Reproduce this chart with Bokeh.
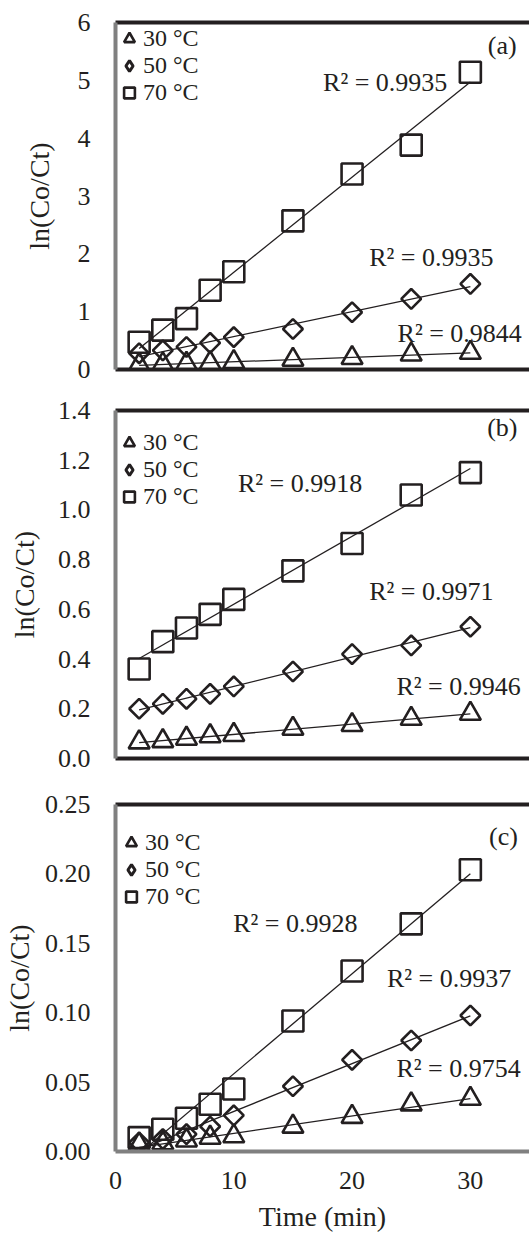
import numpy as np
from bokeh.plotting import figure
from bokeh.layouts import column
from bokeh.models import (Legend, LegendItem, Label, LinearAxis, FixedTicker,
                          Range1d, PrintfTickFormatter)
from bokeh.embed import file_html
from bokeh.resources import INLINE

# ---------------- data ----------------
time_min = [2, 4, 6, 8, 10, 15, 20, 25, 30]
series_labels = ["30 °C", "50 °C", "70 °C"]

a_30 = [0.08, 0.09, 0.10, 0.11, 0.13, 0.17, 0.20, 0.26, 0.29]
a_50 = [0.28, 0.33, 0.39, 0.46, 0.56, 0.70, 0.99, 1.22, 1.48]
a_70 = [0.47, 0.68, 0.88, 1.37, 1.69, 2.57, 3.38, 3.88, 5.14]
a_r2 = ["R² = 0.9844", "R² = 0.9935", "R² = 0.9935"]

b_30 = [0.065, 0.07, 0.08, 0.09, 0.095, 0.12, 0.135, 0.16, 0.18]
b_50 = [0.20, 0.22, 0.24, 0.26, 0.29, 0.35, 0.42, 0.455, 0.53]
b_70 = [0.36, 0.47, 0.525, 0.58, 0.64, 0.755, 0.865, 1.06, 1.15]
b_r2 = ["R² = 0.9946", "R² = 0.9971", "R² = 0.9918"]

c_30 = [0.005, 0.006, 0.008, 0.010, 0.011, 0.018, 0.025, 0.034, 0.038]
c_50 = [0.0065, 0.009, 0.0125, 0.018, 0.026, 0.047, 0.066, 0.080, 0.098]
c_70 = [0.010, 0.016, 0.024, 0.034, 0.045, 0.094, 0.130, 0.164, 0.203]
c_r2 = ["R² = 0.9754", "R² = 0.9937", "R² = 0.9928"]

x_ticks = [0, 10, 20, 30]
a_yticks = [0, 1, 2, 3, 4, 5, 6]
b_yticks = [0.0, 0.2, 0.4, 0.6, 0.8, 1.0, 1.2, 1.4]
c_yticks = [0.00, 0.05, 0.10, 0.15, 0.20, 0.25]

FONT = "Liberation Serif"
INK = "#231f20"


def make_panel(series, r2_texts, r2_pos, tag, tag_pos, yticks, yfmt,
               height, top, bottom, legend_vy, legend_vx, label_standoff,
               show_x, bottom_color, bottom_width):
    p = figure(width=529, height=height, output_backend="svg", toolbar_location=None,
               x_range=Range1d(0, 35), y_range=Range1d(yticks[0], yticks[-1]),
               min_border_left=112, min_border_right=0,
               min_border_top=top, min_border_bottom=bottom,
               y_axis_label="ln(Co/Ct)", x_axis_label=("Time (min)" if show_x else None))
    p.outline_line_color = None
    p.grid.visible = False
    p.background_fill_color = "white"

    # y axis
    yax = p.yaxis[0]
    yax.ticker = FixedTicker(ticks=yticks)
    yax.formatter = PrintfTickFormatter(format=yfmt)
    yax.major_tick_out = 0
    yax.major_tick_in = 0
    yax.minor_tick_out = 0
    yax.minor_tick_in = 0
    yax.major_label_standoff = 25
    yax.major_label_text_font = FONT
    yax.major_label_text_font_size = "26px"
    yax.major_label_text_color = INK
    yax.axis_label_text_font = FONT
    yax.axis_label_text_font_size = "28px"
    yax.axis_label_text_font_style = "normal"
    yax.axis_label_text_color = INK
    yax.axis_label_standoff = label_standoff
    yax.axis_line_color = "#808080"
    yax.axis_line_width = 4

    # x axis
    xax = p.xaxis[0]
    xax.major_tick_out = 0
    xax.major_tick_in = 0
    xax.minor_tick_out = 0
    xax.minor_tick_in = 0
    xax.axis_line_color = bottom_color
    xax.axis_line_width = bottom_width
    if show_x:
        xax.ticker = FixedTicker(ticks=x_ticks)
        xax.major_label_standoff = 20
        xax.major_label_text_font = FONT
        xax.major_label_text_font_size = "26px"
        xax.major_label_text_color = INK
        xax.axis_label_text_font = FONT
        xax.axis_label_text_font_size = "28px"
        xax.axis_label_text_font_style = "normal"
        xax.axis_label_text_color = INK
        xax.axis_label_standoff = 9
    else:
        xax.ticker = FixedTicker(ticks=[])
        xax.major_label_standoff = 0

    # top border
    top_ax = LinearAxis(ticker=FixedTicker(ticks=[]), major_tick_out=0, major_tick_in=0,
                        minor_tick_out=0, minor_tick_in=0, major_label_standoff=0,
                        axis_line_color=INK, axis_line_width=4)
    p.add_layout(top_ax, "above")

    ys30, ys50, ys70 = series
    xs = np.array(time_min, dtype=float)

    # trend lines (least squares fits of each series)
    for ys in (ys30, ys50, ys70):
        k, b0 = np.polyfit(xs, np.array(ys, dtype=float), 1)
        xf = np.array([xs[0], xs[-1]])
        p.line(xf, k * xf + b0, line_color=INK, line_width=1.3)

    r30 = p.scatter(xs, ys30, marker="triangle", size=21, fill_color=None,
                    line_color=INK, line_width=2.6)
    r50 = p.scatter(xs, ys50, marker="square", angle=np.pi / 4, size=14,
                    fill_color=None, line_color=INK, line_width=2.6)
    r70 = p.scatter(xs, ys70, marker="square", size=21, fill_color=None,
                    line_color=INK, line_width=2.6)
    # legend key for the diamond series (hidden in the plot, shown in the legend)
    r50_key = p.scatter(xs, ys50, marker="diamond", size=14, fill_color=None,
                        line_color=INK, line_width=3, visible=False)

    legend = Legend(items=[LegendItem(label=series_labels[0], renderers=[r30]),
                           LegendItem(label=series_labels[1], renderers=[r50_key]),
                           LegendItem(label=series_labels[2], renderers=[r70])],
                    location=(legend_vx, legend_vy), orientation="vertical",
                    background_fill_alpha=0, border_line_color=None,
                    inactive_fill_alpha=0,
                    padding=0, margin=0, spacing=0,
                    glyph_height=27, glyph_width=28, label_standoff=0,
                    label_height=27, label_text_font=FONT, label_text_font_size="24px",
                    label_text_color=INK, label_text_baseline="middle")
    p.add_layout(legend)

    for txt, (tx, ty) in zip(r2_texts, r2_pos):
        p.add_layout(Label(x=tx, y=ty, text=txt, text_font=FONT, text_font_size="26px",
                           text_align="center", text_baseline="middle",
                           text_color=INK))
    p.add_layout(Label(x=tag_pos[0], y=tag_pos[1], text=tag, text_font=FONT,
                       text_font_size="26px", text_align="center",
                       text_baseline="middle", text_color=INK))
    return p


pa = make_panel((a_30, a_50, a_70), a_r2,
                [(29.1, 0.62), (26.7, 1.94), (22.8, 4.96)],
                "(a)", (32.7, 5.6), a_yticks, "%d",
                height=385, top=22, bottom=16, legend_vy=263, legend_vx=0,
                label_standoff=20, show_x=False, bottom_color=INK, bottom_width=4)
pb = make_panel((b_30, b_50, b_70), b_r2,
                [(29.0, 0.288), (26.7, 0.672), (15.6, 1.108)],
                "(b)", (32.7, 1.33), b_yticks, "%.1f",
                height=389, top=25, bottom=16, legend_vy=248, legend_vx=0,
                label_standoff=15, show_x=False, bottom_color=INK, bottom_width=4)
pc = make_panel((c_30, c_50, c_70), c_r2,
                [(29.0, 0.0595), (28.2, 0.125), (15.2, 0.1646)],
                "(c)", (32.8, 0.227), c_yticks, "%.2f",
                height=460, top=30, bottom=83, legend_vy=241, legend_vx=2,
                label_standoff=7, show_x=True, bottom_color="#808080", bottom_width=4)

layout = column(pa, pb, pc, spacing=0)
open("out.html", "w").write(file_html(layout, INLINE))
